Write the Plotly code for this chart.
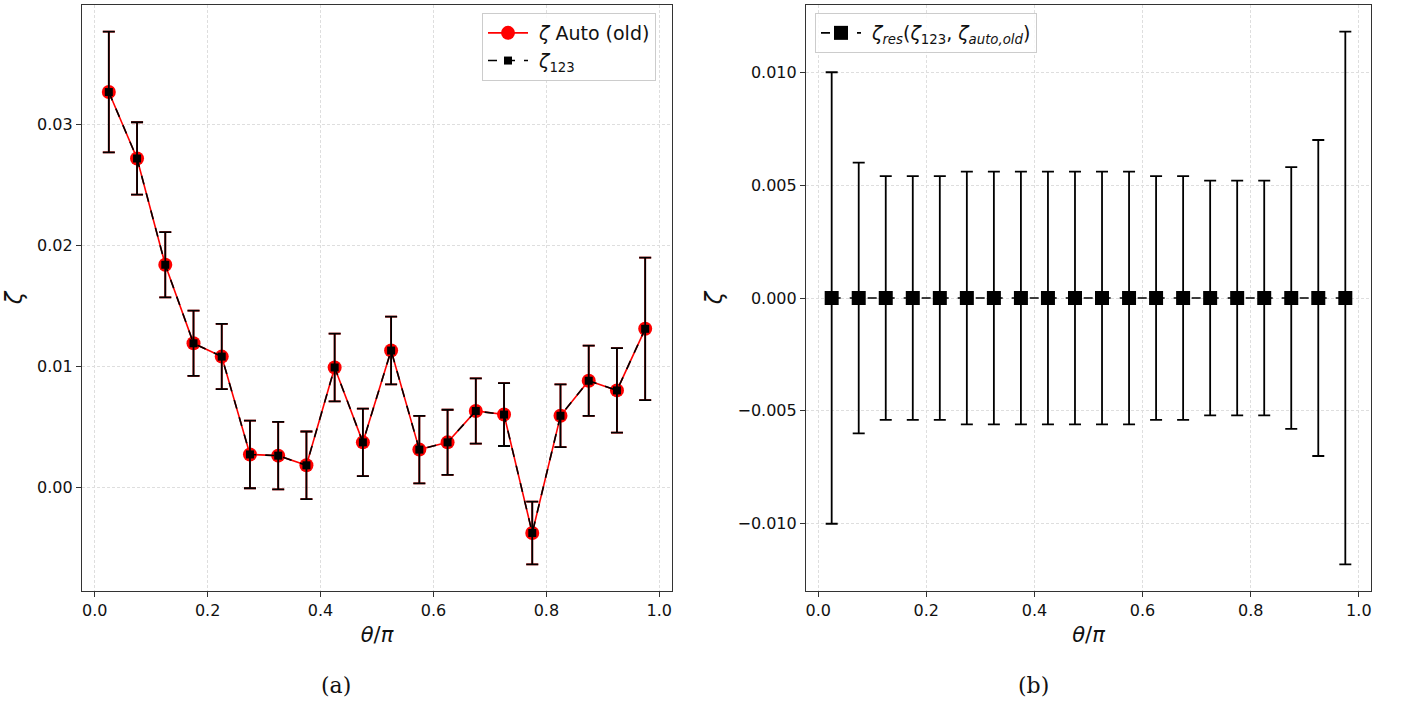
import plotly.graph_objects as go

# ---------------- data ----------------
theta = [0.025, 0.075, 0.125, 0.175, 0.225, 0.275, 0.325, 0.375, 0.425, 0.475,
         0.525, 0.575, 0.625, 0.675, 0.725, 0.775, 0.825, 0.875, 0.925, 0.975]
zeta_auto_old = [0.0327, 0.0272, 0.0184, 0.0119, 0.0108, 0.0027, 0.0026, 0.0018, 0.0099, 0.0037,
                 0.0113, 0.0031, 0.0037, 0.0063, 0.0060, -0.0038, 0.0059, 0.0088, 0.0080, 0.0131]
zeta_123 = [0.0327, 0.0272, 0.0184, 0.0119, 0.0108, 0.0027, 0.0026, 0.0018, 0.0099, 0.0037,
            0.0113, 0.0031, 0.0037, 0.0063, 0.0060, -0.0038, 0.0059, 0.0088, 0.0080, 0.0131]
zeta_err = [0.0050, 0.0030, 0.0027, 0.0027, 0.0027, 0.0028, 0.0028, 0.0028, 0.0028, 0.0028,
            0.0028, 0.0028, 0.0027, 0.0027, 0.0026, 0.0026, 0.0026, 0.0029, 0.0035, 0.0059]
zeta_res = [0.0, 0.0, 0.0, 0.0, 0.0, 0.0, 0.0, 0.0, 0.0, 0.0,
            0.0, 0.0, 0.0, 0.0, 0.0, 0.0, 0.0, 0.0, 0.0, 0.0]
zeta_res_err = [0.0100, 0.0060, 0.0054, 0.0054, 0.0054, 0.0056, 0.0056, 0.0056, 0.0056, 0.0056,
                0.0056, 0.0056, 0.0054, 0.0054, 0.0052, 0.0052, 0.0052, 0.0058, 0.0070, 0.0118]

left_yticks = [0.00, 0.01, 0.02, 0.03]
right_yticks = [-0.010, -0.005, 0.000, 0.005, 0.010]
xticks = [0.0, 0.2, 0.4, 0.6, 0.8, 1.0]

W, H = 1402, 702
FONT = "DejaVu Sans"

fig = go.Figure()

# left panel
fig.add_trace(go.Scatter(
    x=theta, y=zeta_auto_old, mode="lines+markers", name=" <i>ζ</i> Auto (old)",
    line=dict(color="red", width=1.6),
    marker=dict(symbol="circle", size=14, color="red", line=dict(width=0)),
    error_y=dict(type="data", array=zeta_err, visible=True, color="red", thickness=1.8, width=6),
    xaxis="x", yaxis="y", legend="legend",
))
fig.add_trace(go.Scatter(
    x=theta, y=zeta_123, mode="lines+markers", name=" <i>ζ</i><sub>123</sub>",
    line=dict(color="black", width=1.6, dash="dash"),
    marker=dict(symbol="square", size=8, color="black", line=dict(width=0)),
    error_y=dict(type="data", array=zeta_err, visible=True, color="black", thickness=1.8, width=6),
    xaxis="x", yaxis="y", legend="legend",
))

# right panel
fig.add_trace(go.Scatter(
    x=theta, y=zeta_res, mode="lines+markers",
    name=" <i>ζ</i><sub><i>res</i></sub>(<i>ζ</i><sub>123</sub>, <i>ζ</i><sub><i>auto,old</i></sub>)",
    line=dict(color="black", width=1.6, dash="dash"),
    marker=dict(symbol="square", size=14, color="black", line=dict(width=0)),
    error_y=dict(type="data", array=zeta_res_err, visible=True, color="black", thickness=1.8, width=6),
    xaxis="x2", yaxis="y2", legend="legend2",
))

axis_common = dict(
    showline=True, mirror=True, linecolor="#333333", linewidth=1.2,
    ticks="outside", ticklen=5, tickwidth=1.1, tickcolor="#333333",
    showgrid=True, gridcolor="#dedede", gridwidth=0.7, griddash="3px,2px",
    zeroline=False, tickfont=dict(family=FONT, size=16, color="#111111"),
    automargin=False,
)

ydom = [1 - 591 / H, 1 - 5 / H]

fig.update_layout(
    width=W, height=H,
    margin=dict(l=0, r=0, t=0, b=0),
    paper_bgcolor="white", plot_bgcolor="white",
    font=dict(family=FONT, color="#111111"),
    xaxis=dict(domain=[82 / W, 672 / W], range=[-0.0225, 1.0225], tickvals=xticks,
               tickformat=".1f", anchor="y",
               title=dict(text="<i>θ</i>/<i>π</i>", font=dict(family=FONT, size=21), standoff=8),
               **axis_common),
    yaxis=dict(domain=ydom, range=[-0.008605, 0.039905], tickvals=left_yticks,
               tickformat=".2f", anchor="x",
               title=dict(text="<i>ζ</i>", font=dict(family=FONT, size=23), standoff=8),
               **axis_common),
    xaxis2=dict(domain=[806 / W, 1371 / W], range=[-0.0225, 1.0225], tickvals=xticks,
                tickformat=".1f", anchor="y2",
                title=dict(text="<i>θ</i>/<i>π</i>", font=dict(family=FONT, size=21), standoff=8),
                **axis_common),
    yaxis2=dict(domain=ydom, range=[-0.01298, 0.01298], tickvals=right_yticks,
                tickformat=".3f", anchor="x2",
                title=dict(text="<i>ζ</i>", font=dict(family=FONT, size=23), standoff=8),
                **axis_common),
    legend=dict(x=482 / W, y=1 - 13 / H, xanchor="left", yanchor="top",
                bgcolor="rgba(255,255,255,0.85)", bordercolor="#cccccc", borderwidth=1,
                itemwidth=40, tracegroupgap=2,
                font=dict(family=FONT, size=19, color="#111111")),
    legend2=dict(x=815 / W, y=1 - 13 / H, xanchor="left", yanchor="top",
                 bgcolor="rgba(255,255,255,0.85)", bordercolor="#cccccc", borderwidth=1,
                 itemwidth=40,
                 font=dict(family=FONT, size=19, color="#111111")),
    showlegend=True,
)

fig.add_annotation(text="(a)", x=336 / W, y=1 - 685 / H, xref="paper", yref="paper",
                   xanchor="center", yanchor="middle",
                   showarrow=False, font=dict(family="DejaVu Serif", size=22, color="#111111"))
fig.add_annotation(text="(b)", x=1033 / W, y=1 - 685 / H, xref="paper", yref="paper",
                   xanchor="center", yanchor="middle",
                   showarrow=False, font=dict(family="DejaVu Serif", size=22, color="#111111"))

fig.write_html("out.html")
